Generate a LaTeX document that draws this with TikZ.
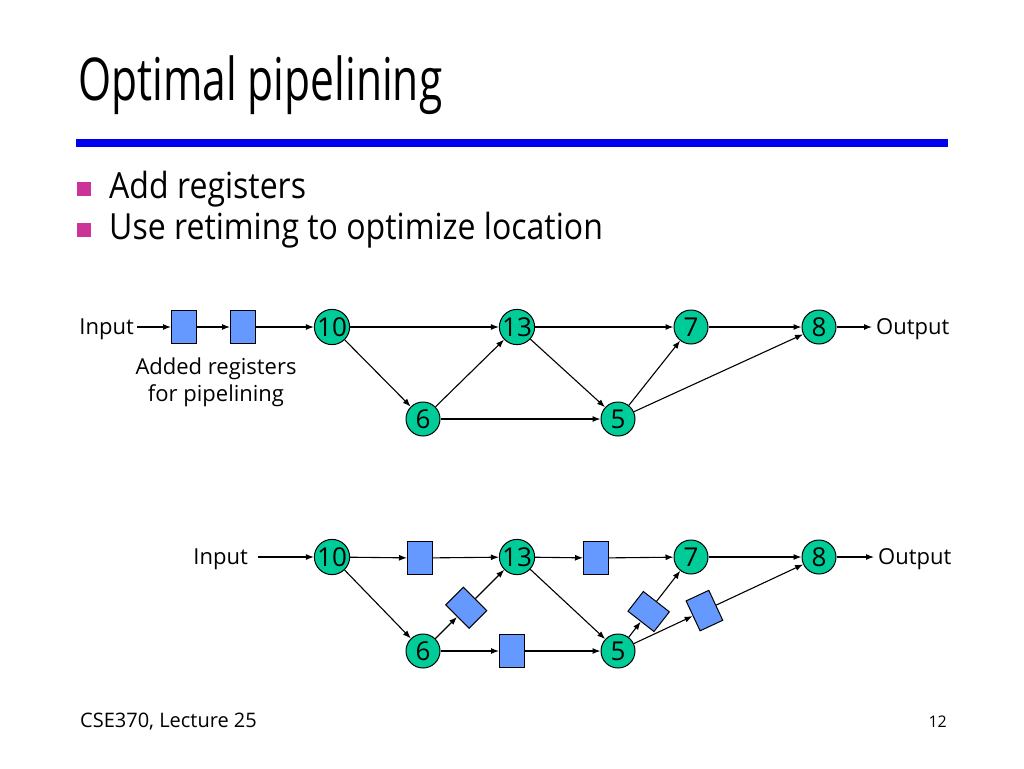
\documentclass[tikz,border=0pt]{standalone}
\usepackage{fontspec}
\setmainfont{Open Sans}
\newfontfamily\titlefont{Open Sans}[FakeStretch=0.72]
\newfontfamily\itemfont{Open Sans}[FakeStretch=0.89]
\usetikzlibrary{arrows.meta,calc}
\definecolor{opgreen}{RGB}{0,204,153}
\definecolor{regblue}{RGB}{102,153,255}
\definecolor{ruleblue}{RGB}{0,0,240}
\definecolor{bulletmag}{RGB}{204,51,153}
\tikzset{
  op/.style={circle,draw,fill=opgreen,line width=1pt,minimum size=34pt,inner sep=0pt,font=\fontsize{26}{28}\selectfont},
  reg/.style={draw,fill=regblue,line width=1pt,minimum width=25pt,minimum height=33pt,inner sep=0pt},
  lbl/.style={inner sep=0pt,font=\fontsize{22}{27}\selectfont},
  wire/.style={-{Latex[length=8pt,width=6pt]},line width=1.1pt}
}
\begin{document}
\begin{tikzpicture}[x=1pt,y=-1pt]
\useasboundingbox(0,0)rectangle(1024,768);
% title and bullets
\node[anchor=base west,inner sep=0pt,font=\titlefont\fontsize{59}{64}\selectfont](title)at(78,100){Optimal pipelining};
\fill[ruleblue](76,139)rectangle(948,147);
\fill[bulletmag](77,182)rectangle(91,196);
\fill[bulletmag](77,223)rectangle(91,237);
\node[anchor=base west,inner sep=0pt,font=\itemfont\fontsize{36}{40}\selectfont](itemA)at(109,198){Add registers};
\node[anchor=base west,inner sep=0pt,font=\itemfont\fontsize{36}{40}\selectfont](itemB)at(109,239){Use retiming to optimize location};
% upper graph
\node[lbl,anchor=base east](inA)at(134,334){Input};
\node[reg](ra)at(184,327){};
\node[reg](rb)at(243,327){};
\node[op](a10)at(332,327){10};
\node[op](a13)at(517,327){13};
\node[op](a7)at(691,327){7};
\node[op](a8)at(819,327){8};
\node[op](a6)at(423,419){6};
\node[op](a5)at(618,419){5};
\node[lbl,anchor=base west](outA)at(876,334){Output};
\node[lbl,align=center,anchor=north](note)at(216,358){Added registers\\for pipelining};
\draw[wire]($(inA.east|-ra)+(3,0)$)--(ra);
\draw[wire](ra)--(rb);
\draw[wire](rb)--(a10);
\draw[wire](a10)--(a13);
\draw[wire](a10)--(a6);
\draw[wire](a6)--(a13);
\draw[wire](a6)--(a5);
\draw[wire](a13)--(a5);
\draw[wire](a13)--(a7);
\draw[wire](a5)--(a7);
\draw[wire](a5)--(a8);
\draw[wire](a7)--(a8);
\draw[wire](a8)--($(outA.west|-a8)+(-4,0)$);
% lower graph
\node[lbl,anchor=base east](inB)at(248,564){Input};
\node[op](b10)at(332,557){10};
\node[op](b13)at(517,557){13};
\node[op](b7)at(691,557){7};
\node[op](b8)at(819,557){8};
\node[op](b6)at(423,651){6};
\node[op](b5)at(618,651){5};
\node[lbl,anchor=base west](outB)at(878,564){Output};
\node[reg](r1)at(420,558){};
\node[reg](r4)at(596,558){};
\node[reg](r3)at(512,651){};
\node[reg,rotate=45](r2)at($(b6)!0.46!(b13)$){};
\node[reg,rotate=52](r5)at($(b5)!0.42!(b7)$){};
\node[reg,rotate=25](r6)at($(b5)!0.43!(b8)$){};
\draw[wire]($(inB.east|-b10)+(10,0)$)--(b10);
\draw[wire](b10)--(r1);
\draw[wire](r1)--(b13);
\draw[wire](b10)--(b6);
\draw[wire](b6)--(r2);
\draw[wire](r2)--(b13);
\draw[wire](b6)--(r3);
\draw[wire](r3)--(b5);
\draw[wire](b13)--(b5);
\draw[wire](b13)--(r4);
\draw[wire](r4)--(b7);
\draw[wire](b5)--(r5);
\draw[wire](r5)--(b7);
\draw[wire](b5)--(r6);
\draw[wire](r6)--(b8);
\draw[wire](b7)--(b8);
\draw[wire](b8)--($(outB.west|-b8)+(-4,0)$);
% footer
\node[anchor=base west,inner sep=0pt,font=\fontsize{20}{24}\selectfont](foot)at(80,727){CSE370, Lecture 25};
\node[anchor=base east,inner sep=0pt,font=\fontsize{16}{20}\selectfont](page)at(947,727){12};
\end{tikzpicture}
\end{document}
